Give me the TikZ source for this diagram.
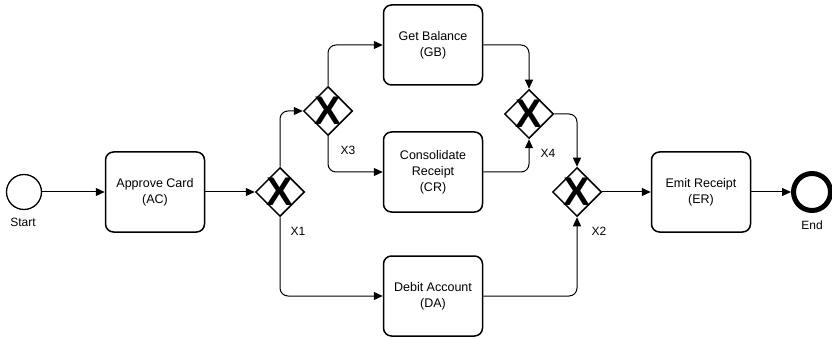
\documentclass[tikz,border=0pt]{standalone}
\usepackage{fontspec}
\setmainfont{Liberation Sans}
\usetikzlibrary{shapes.geometric,arrows.meta}
\tikzset{
  task/.style={draw,rounded corners=8pt,line width=1.5pt,minimum width=99pt,minimum height=80pt,
    align=center,font=\fontsize{12.5}{16}\selectfont},
  gate/.style={draw,diamond,line width=1.5pt,minimum width=49pt,minimum height=49pt,inner sep=0pt,
    label={[font=\fontsize{40}{40}\selectfont\bfseries,inner sep=0pt]center:X}},
  event/.style={draw,circle,inner sep=0pt,minimum size=35pt,line width=1.3pt},
  tag/.style={font=\fontsize{12}{14}\selectfont,inner sep=1pt},
  flow/.style={->,line width=1pt,rounded corners=8pt}
}
\begin{document}
\begin{tikzpicture}[x=1pt,y=-1pt,>={Triangle[length=9pt,width=8pt]}]
\useasboundingbox (0,0) rectangle (832,339);
% events
\node[event] (start) at (24,192) {};
\node[tag] at (23,222) {Start};
\node[event,minimum size=37pt,line width=5pt] (end) at (812,192) {};
\node[tag] at (812,225) {End};
% tasks
\node[task] (ac) at (155,192) {Approve Card\\(AC)};
\node[task] (gb) at (433,45) {Get Balance\\(GB)};
\node[task] (cr) at (433,172) {Consolidate\\Receipt\\(CR)};
\node[task] (da) at (433,296) {Debit Account\\(DA)};
\node[task] (er) at (701,192) {Emit Receipt\\(ER)};
% gateways
\node[gate] (x1) at (280,192) {};
\node[tag] at (298,231) {X1};
\node[gate] (x3) at (328,111) {};
\node[tag] at (348,150) {X3};
\node[gate] (x4) at (529,114) {};
\node[tag] at (548,153) {X4};
\node[gate] (x2) at (577,192) {};
\node[tag] at (599,231) {X2};
% flows
\draw[flow] (start) -- (ac);
\draw[flow] (ac) -- (x1);
\draw[flow] (x1.north) |- (x3.west);
\draw[flow] (x3.north) |- (gb.west);
\draw[flow] (x3.south) |- (cr.west);
\draw[flow] (gb.east) -| (x4.north);
\draw[flow] (cr.east) -| (x4.south);
\draw[flow] (x4.east) -| (x2.north);
\draw[flow] (x1.south) |- (da.west);
\draw[flow] (da.east) -| (x2.south);
\draw[flow] (x2) -- (er);
\draw[flow] (er) -- (end);
\end{tikzpicture}
\end{document}
